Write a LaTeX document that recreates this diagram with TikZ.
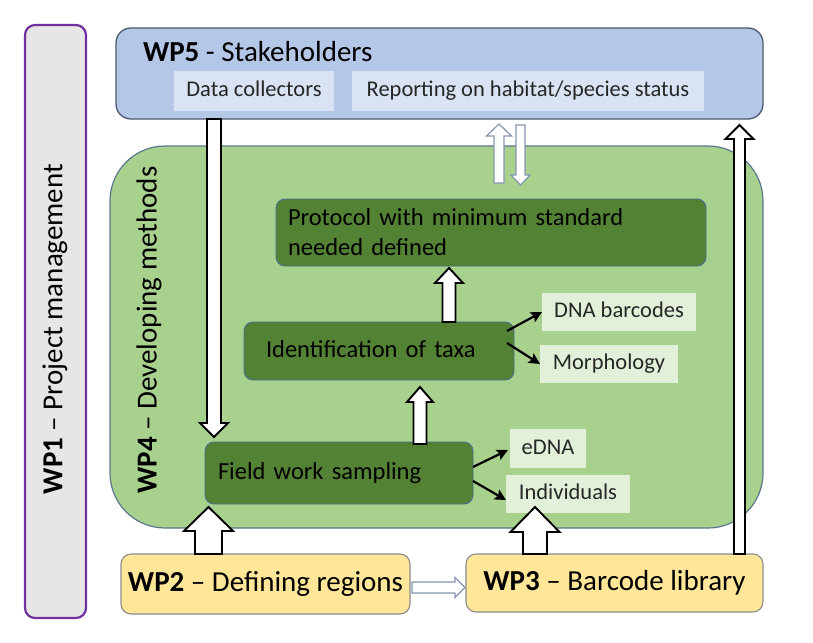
\documentclass[tikz,border=0pt]{standalone}
\usepackage{fontspec}
\setmainfont{Carlito}
\usetikzlibrary{calc,arrows.meta}
\definecolor{wponefill}{HTML}{E7E6E6}
\definecolor{wponeline}{HTML}{7030A0}
\definecolor{wpfivefill}{HTML}{B4C7E7}
\definecolor{wpfivesub}{HTML}{DAE3F3}
\definecolor{wpfiveline}{HTML}{4A5B73}
\definecolor{wpfourfill}{HTML}{A9D18E}
\definecolor{wpfourline}{HTML}{5A7890}
\definecolor{dgreen}{HTML}{548235}
\definecolor{dgreenline}{HTML}{4A6E8A}
\definecolor{lgreen}{HTML}{E2F0D9}
\definecolor{wpyellow}{HTML}{FFE699}
\definecolor{wpyellowline}{HTML}{8C8C8C}
\definecolor{hollowline}{HTML}{8497B0}
\definecolor{txtgray}{HTML}{262626}
\newcommand\sizewp{\fontsize{29}{34}\selectfont}
\newcommand\sizesub{\fontsize{22.5}{27}\selectfont}
\newcommand\sizedark{\fontsize{24.5}{30}\selectfont}
\newcommand\blockarrow[6][]{%
  \coordinate (ba-s) at (#2);
  \coordinate (ba-t) at (#3);
  \coordinate (ba-h) at ($(ba-t)!#6!(ba-s)$);
  \draw[#1] ($(ba-s)!#4!90:(ba-t)$) -- ($(ba-h)!#4!-90:(ba-s)$) -- ($(ba-h)!#5!-90:(ba-s)$) -- (ba-t) -- ($(ba-h)!#5!90:(ba-s)$) -- ($(ba-h)!#4!90:(ba-s)$) -- ($(ba-s)!#4!-90:(ba-t)$) -- cycle;
}
\begin{document}
\begin{tikzpicture}[x=1pt,y=-1pt,
  every node/.style={inner sep=0pt, outer sep=0pt},
  wponebox/.style={draw=wponeline, fill=wponefill, line width=2.2pt, rounded corners=10pt},
  wpfivebox/.style={draw=wpfiveline, fill=wpfivefill, line width=1.3pt, rounded corners=15pt},
  subfive/.style={fill=wpfivesub, font=\sizesub, text=txtgray, text height=15.75pt, text depth=4.5pt},
  wpfourbox/.style={draw=wpfourline, fill=wpfourfill, line width=1.2pt, rounded corners=55pt},
  darkbox/.style={draw=dgreenline, fill=dgreen, line width=0.9pt, rounded corners=9pt, font=\sizedark, text=black, align=left},
  darkone/.style={text height=17.15pt, text depth=4.9pt},
  lightbox/.style={fill=lgreen, font=\sizesub, text=txtgray, text height=15.75pt, text depth=4.5pt},
  wpybox/.style={draw=wpyellowline, fill=wpyellow, line width=1.1pt, rounded corners=10pt, font=\sizewp, text height=20.3pt, text depth=5.8pt},
  blk/.style={draw=black, fill=white, line width=1.9pt, line join=miter},
  hol/.style={draw=hollowline, fill=white, line width=1.2pt, line join=miter},
  thinarr/.style={draw=black, line width=2.2pt, -{Stealth[length=11pt,width=11pt,inset=2pt]}}
]
\useasboundingbox (0,0) rectangle (813,642);
\fill[white] (0,0) rectangle (813,642);

% WP1
\node[wponebox, rotate=90, minimum width=593pt, minimum height=61pt] (wp1) at (55.5,321.5) {};
\node[font=\sizewp, rotate=90] (wp1t) at (55,329) {\textbf{WP1} – Project management};

% WP4
\node[wpfourbox, minimum width=653pt, minimum height=382pt] (wp4) at (436.5,337) {};
\node[font=\sizewp, rotate=90] (wp4t) at (149,330) {\textbf{WP4} – Developing methods};

% WP5
\node[wpfivebox, minimum width=647pt, minimum height=91pt] (wp5) at (439.5,73.5) {};
\node[font=\sizewp, anchor=base west] (wp5t) at (143,61) {\textbf{WP5} - Stakeholders};
\node[subfive, minimum width=160pt, minimum height=40pt] (dc) at (254,91) {Data collectors};
\node[subfive, minimum width=352pt, minimum height=40pt] (rep) at (528,91) {Reporting on habitat/species status};

% dark boxes
\node[darkbox, minimum height=67pt, text width=406pt, inner xsep=12pt] (pr) at (491,232.5)
  {\makebox[342pt][s]{Protocol with minimum standard}\\needed defined};
\node[darkbox, darkone, minimum height=58pt, text width=226pt, inner xsep=22pt] (id) at (379,351)
  {Identification of taxa};
\node[darkbox, darkone, minimum height=62pt, text width=242pt, inner xsep=13pt] (fw) at (339,473)
  {Field work sampling};

% light boxes
\node[lightbox, minimum width=154pt, minimum height=38pt] (dna) at (619,312) {DNA barcodes};
\node[lightbox, minimum width=138pt, minimum height=38pt] (mor) at (609,364) {Morphology};
\node[lightbox, minimum width=76pt, minimum height=39pt] (edna) at (548,448.5) {eDNA};
\node[lightbox, minimum width=124pt, minimum height=38pt] (ind) at (568,494) {Individuals};

% WP2, WP3
\node[wpybox, minimum width=289pt, minimum height=60pt] (wp2) at (265.5,584) {\textbf{WP2} – Defining regions};
\node[wpybox, minimum width=297pt, minimum height=58pt] (wp3) at (614.5,583) {\textbf{WP3} – Barcode library};

% thin arrows
\draw[thinarr] ($(id.east)+(-7,-20)$) -- (dna.west);
\draw[thinarr] ($(id.east)+(-7,-8)$) -- (mor.west);
\draw[thinarr] ($(fw.east)+(0,-6)$) -- ($(edna.west)+(-2,1.5)$);
\draw[thinarr] ($(fw.east)+(0,8)$) -- ($(ind.west)+(0,6)$);

% block arrows
\blockarrow[blk]{wp5.south -| 214,0}{$(fw.north -| 214,0)+(0,-5)$}{7pt}{14pt}{14pt}
\blockarrow[blk]{wp2.north -| 208.5,0}{$(fw.south -| 208.5,0)+(0,3)$}{13.5pt}{24.5pt}{24pt}
\blockarrow[blk]{wp3.north -| 535,0}{$(ind.south -| 535,0)+(0,-6)$}{12pt}{24.5pt}{25pt}
\blockarrow[blk]{$(fw.north -| 420,0)+(0,2)$}{$(id.south -| 420,0)+(0,7)$}{6.5pt}{13pt}{15pt}
\blockarrow[blk]{id.north -| 449,0}{$(pr.south -| 449,0)+(0,2)$}{6.5pt}{14pt}{15pt}
\blockarrow[blk]{wp3.north -| 739.5,0}{$(wp5.south -| 739.5,0)+(0,6)$}{5.5pt}{14pt}{14pt}
\blockarrow[hol]{$(wp4.north -| 499,0)+(0,37)$}{$(wp5.south -| 499,0)+(0,5)$}{5pt}{12.5pt}{12pt}
\blockarrow[hol]{$(wp5.south -| 520.5,0)+(0,6)$}{$(wp4.north -| 520.5,0)+(0,39)$}{4.5pt}{9.5pt}{10pt}
\blockarrow[hol]{$(wp2.east)+(2,3.5)$}{$(wp3.west)+(-1,4.5)$}{5.5pt}{10pt}{10pt}
\end{tikzpicture}
\end{document}
